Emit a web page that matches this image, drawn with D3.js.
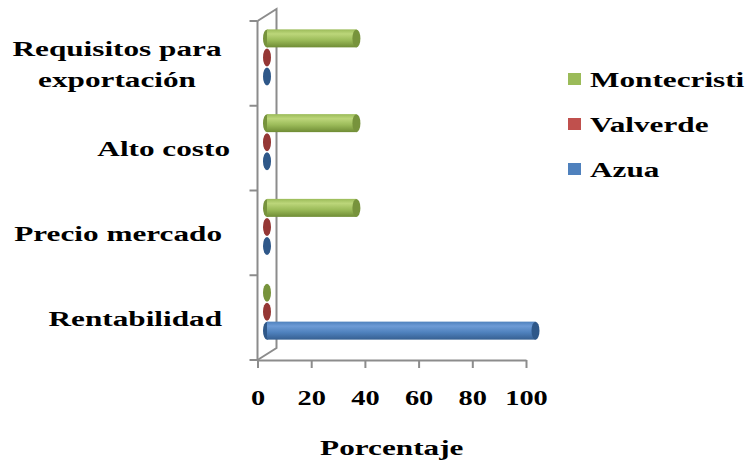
<!DOCTYPE html>
<html>
<head>
<meta charset="utf-8">
<script src="https://cdn.jsdelivr.net/npm/d3@7"></script>
<style>
  body { margin: 0; background: #fff; }
  text { font-family: "Liberation Serif", "Times New Roman", serif; font-weight: bold; fill: #000; }
</style>
</head>
<body>
<div id="vis1"></div>
<script>
const FRAME_WIDTH = 749;
const FRAME_HEIGHT = 473;

// data
const categories = ["Requisitos para exportación", "Alto costo", "Precio mercado", "Rentabilidad"];
const categoryLines = [["Requisitos para", "exportación"], ["Alto costo"], ["Precio mercado"], ["Rentabilidad"]];
const seriesNames = ["Montecristi", "Valverde", "Azua"];
const montecristi = [33.3, 33.3, 33.3, 0];
const valverde = [0, 0, 0, 0];
const azua = [0, 0, 0, 100];
const xTicks = [0, 20, 40, 60, 80, 100];
const xTitle = "Porcentaje";

const seriesValues = {Montecristi: montecristi, Valverde: valverde, Azua: azua};
const colors = {
  Montecristi: {base: "#9bbb59", light: "#bcd67a", dark: "#6f8c35", cap: "#77933c"},
  Valverde: {base: "#c0504d", light: "#d4716e", dark: "#8e302e", cap: "#953735"},
  Azua: {base: "#4f81bd", light: "#6d9bd6", dark: "#365f91", cap: "#2f5889"}
};

const STRETCH = 1.42;   // text in the picture is wide
const DX = 19, DY = -12; // 3d depth offset

const FRAME1 = d3.select('#vis1')
  .append('svg')
    .attr('width', FRAME_WIDTH)
    .attr('height', FRAME_HEIGHT);

const X_SCALE = d3.scaleLinear().domain([0, 100]).range([257.5, 526]);
const Y_SCALE = d3.scaleBand().domain(categories).range([21, 360]).paddingInner(0).paddingOuter(0);
const S_SCALE = d3.scaleBand().domain(seriesNames).range([0, 57]);

// gradients
const defs = FRAME1.append('defs');
seriesNames.forEach(s => {
  const g = defs.append('linearGradient').attr('id', 'grad-' + s)
    .attr('x1', 0).attr('y1', 0).attr('x2', 0).attr('y2', 1);
  g.append('stop').attr('offset', '0%').attr('stop-color', colors[s].base);
  g.append('stop').attr('offset', '25%').attr('stop-color', colors[s].light);
  g.append('stop').attr('offset', '60%').attr('stop-color', colors[s].base);
  g.append('stop').attr('offset', '100%').attr('stop-color', colors[s].dark);
});

// 3d walls
const x0 = X_SCALE(0);
const yTop = Y_SCALE.range()[0], yBot = Y_SCALE.range()[1];
const grid = FRAME1.append('g').attr('stroke', '#8c8c8c').attr('stroke-width', 2).attr('fill', 'none');
grid.append('path')
  .attr('d', `M${x0},${yTop} L${x0 + DX},${yTop + DY} L${x0 + DX},${yBot + DY} L${x0},${yBot}`);
grid.append('line').attr('x1', x0).attr('y1', yTop).attr('x2', x0).attr('y2', yBot);

// y ticks at band edges
const edges = categories.map(c => Y_SCALE(c)).concat([yBot]);
grid.selectAll('.ytick').data(edges).enter().append('line')
  .attr('x1', x0 - 8).attr('x2', x0).attr('y1', d => d).attr('y2', d => d);

// x axis
const xAxis = FRAME1.append('g')
  .attr('transform', 'translate(0,' + yBot + ')')
  .call(d3.axisBottom(X_SCALE).tickValues(xTicks).tickSize(8).tickSizeOuter(0));
xAxis.select('.domain').attr('stroke', '#8c8c8c').attr('stroke-width', 2);
xAxis.selectAll('.tick line').attr('stroke', '#8c8c8c').attr('stroke-width', 2);
xAxis.selectAll('.tick text')
  .attr('y', 45).attr('dy', 0)
  .attr('font-size', 20)
  .attr('font-family', '"Liberation Serif", serif')
  .attr('font-weight', 'bold')
  .attr('fill', '#000')
  .attr('transform', `scale(${STRETCH},1)`);

// axis title
FRAME1.append('text')
  .attr('text-anchor', 'middle')
  .attr('font-size', 22)
  .attr('transform', `translate(${(X_SCALE(0) + X_SCALE(100)) / 2},455) scale(${STRETCH},1)`)
  .text(xTitle);

// category labels
categories.forEach((c, i) => {
  const lines = categoryLines[i];
  const cy = Y_SCALE(c) + Y_SCALE.bandwidth() / 2;
  const lh = 31;
  const first = cy + 8 - (lines.length - 1) * lh / 2;
  const t = FRAME1.append('text').attr('font-size', 22);
  if (lines.length > 1) {
    t.attr('text-anchor', 'middle').attr('transform', `translate(117,${first}) scale(${STRETCH},1)`);
    lines.forEach((l, j) => t.append('tspan').attr('x', 0).attr('y', j * lh).text(l));
  } else {
    const xEnd = c === "Alto costo" ? 230 : 222;
    t.attr('text-anchor', 'end').attr('transform', `translate(${xEnd},${first}) scale(${STRETCH},1)`).text(lines[0]);
  }
});

// bars as cylinders
const ry = 9, rx = 4;
const barData = [];
categories.forEach((c, i) => {
  seriesNames.forEach(s => barData.push({cat: c, series: s, value: seriesValues[s][i]}));
});
const offset = (Y_SCALE.bandwidth() - (S_SCALE.range()[1] - S_SCALE.range()[0])) / 2;
function barCy(d) {
  return Y_SCALE(d.cat) + offset + S_SCALE(d.series) + S_SCALE.bandwidth() / 2 + DY / 2;
}
const bars = FRAME1.append('g').selectAll('g').data(barData).enter().append('g');
bars.append('ellipse')
  .attr('cx', d => X_SCALE(0) + DX / 2)
  .attr('cy', barCy)
  .attr('rx', rx).attr('ry', ry)
  .attr('fill', d => colors[d.series].cap);
bars.filter(d => d.value > 0).append('rect')
  .attr('x', d => X_SCALE(0) + DX / 2)
  .attr('y', d => barCy(d) - ry)
  .attr('width', d => X_SCALE(d.value) - X_SCALE(0))
  .attr('height', ry * 2)
  .attr('fill', d => 'url(#grad-' + d.series + ')');
bars.filter(d => d.value > 0).append('ellipse')
  .attr('cx', d => X_SCALE(d.value) + DX / 2)
  .attr('cy', barCy)
  .attr('rx', rx).attr('ry', ry)
  .attr('fill', d => colors[d.series].cap);

// legend
const legend = FRAME1.append('g');
const legendY = [79, 124, 169];
seriesNames.forEach((s, i) => {
  legend.append('rect')
    .attr('x', 568).attr('y', legendY[i] - 6)
    .attr('width', 13).attr('height', 12)
    .attr('fill', colors[s].base);
  legend.append('text')
    .attr('font-size', 22)
    .attr('transform', `translate(590,${legendY[i] + 8}) scale(${STRETCH},1)`)
    .text(s);
});
</script>
</body>
</html>
